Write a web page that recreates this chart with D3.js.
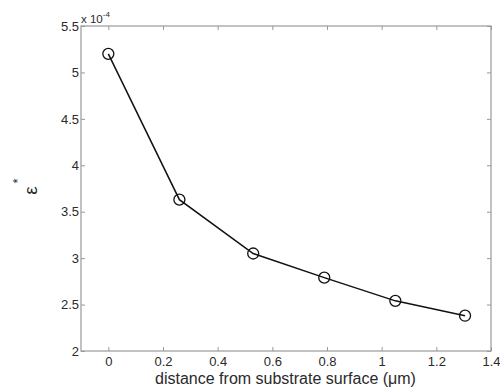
<!DOCTYPE html>
<html><head><meta charset="utf-8">
<script src="https://cdn.jsdelivr.net/npm/d3@7"></script>
<style>body{margin:0;background:#fff}svg text{font-family:Arial,"Liberation Sans",sans-serif}</style>
</head><body>
<svg id="c" width="500" height="391"></svg>
<script>
const distances = [0, 0.26, 0.53, 0.79, 1.05, 1.305];
const strainValues = [5.2, 3.63, 3.05, 2.79, 2.54, 2.38];
const xTicks = [0, 0.2, 0.4, 0.6, 0.8, 1, 1.2, 1.4];
const yTicks = [2, 2.5, 3, 3.5, 4, 4.5, 5, 5.5];
const xLabel = "distance from substrate surface (\u03bcm)";
const yLabel = "\u03b5";

const svg = d3.select("#c");
const L = 81, R = 491, T = 26, B = 351;
const x = d3.scaleLinear().domain([-0.1, 1.4]).range([L, R]);
const y = d3.scaleLinear().domain([2, 5.5]).range([B, T]);
const axisColor = "#999", textColor = "#2a2a2a";

function style(g){
  g.select(".domain").remove();
  g.selectAll(".tick line").attr("stroke", axisColor);
  g.selectAll(".tick text").attr("fill", textColor).attr("font-size", 13);
}
svg.append("g").attr("transform",`translate(0,${B})`)
  .call(d3.axisBottom(x).tickValues(xTicks).tickSize(-4).tickPadding(6).tickFormat(d3.format("~g"))).call(style);
svg.append("g").attr("transform",`translate(0,${T})`)
  .call(d3.axisTop(x).tickValues(xTicks).tickSize(-4).tickFormat("")).call(style);
svg.append("g").attr("transform",`translate(${L},0)`)
  .call(d3.axisLeft(y).tickValues(yTicks).tickSize(-4).tickPadding(2).tickFormat(d3.format("~g"))).call(style);
svg.append("g").attr("transform",`translate(${R},0)`)
  .call(d3.axisRight(y).tickValues(yTicks).tickSize(-4).tickFormat("")).call(style);
svg.append("rect").attr("x",L).attr("y",T).attr("width",R-L).attr("height",B-T)
  .attr("fill","none").attr("stroke",axisColor).attr("stroke-width",1.2);

const pts = distances.map((d,i)=>[d, strainValues[i]]);
svg.append("path").datum(pts)
  .attr("d", d3.line().x(d=>x(d[0])).y(d=>y(d[1])))
  .attr("fill","none").attr("stroke","#111").attr("stroke-width",1.5);
svg.selectAll("circle.pt").data(pts).join("circle")
  .attr("cx",d=>x(d[0])).attr("cy",d=>y(d[1])).attr("r",5.5)
  .attr("fill","none").attr("stroke","#111").attr("stroke-width",1.3);

// exponent
const ex = svg.append("text").attr("x",L).attr("y",T-3.5).attr("font-size",11.5).attr("fill",textColor);
ex.append("tspan").text("x 10");
ex.append("tspan").attr("dy",-6).attr("font-size",8).text("-4");

svg.append("text").attr("x",285.5).attr("y",384).attr("text-anchor","middle")
  .attr("font-size",16).attr("fill",textColor).text(xLabel);

svg.append("text").attr("transform","translate(37,190.5) rotate(-90)")
  .attr("text-anchor","middle").attr("font-size",19).attr("fill",textColor).text(yLabel);
svg.append("text").attr("transform","translate(22,181) rotate(-90)")
  .attr("text-anchor","middle").attr("font-size",13).attr("fill",textColor).text("*");
</script>
</body></html>
